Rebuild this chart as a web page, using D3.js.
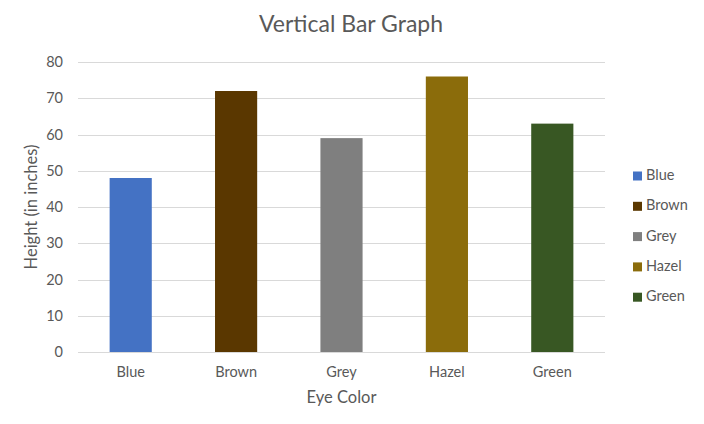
<!DOCTYPE html>
<html>
<head>
<meta charset="utf-8">
<script src="https://cdn.jsdelivr.net/npm/d3@7"></script>
<style>
  body { margin: 0; background: #fff; }
  text { font-family: Lato, "Noto Sans", sans-serif; fill: #595959; }
</style>
</head>
<body>
<svg id="chart"></svg>
<script>
// data
const categories = ['Blue', 'Brown', 'Grey', 'Hazel', 'Green']
const heights = [48, 72, 59, 76, 63]
const barColors = ['#4472c4', '#5a3700', '#7f7f7f', '#8b6c0b', '#385723']
const yTicks = [0, 10, 20, 30, 40, 50, 60, 70, 80]

const w = 704
const h = 424
const margin = {top: 62, right: 99, bottom: 72, left: 78}
const iw = w - margin.left - margin.right
const ih = h - margin.top - margin.bottom

const svg = d3.select('#chart')
  .attr('width', w)
  .attr('height', h)

const g = svg.append('g')
  .attr('transform', `translate(${margin.left},${margin.top})`)

const xScale = d3.scaleBand()
  .domain(categories)
  .range([0, iw])
  .paddingInner(0.6)
  .paddingOuter(0.3)

const yScale = d3.scaleLinear()
  .domain([0, 80])
  .range([ih, 0])

// gridlines
g.append('g')
  .selectAll('line')
  .data(yTicks)
  .enter()
  .append('line')
  .attr('x1', 0)
  .attr('x2', iw)
  .attr('y1', d => Math.round(yScale(d)) + 0.5)
  .attr('y2', d => Math.round(yScale(d)) + 0.5)
  .attr('stroke', '#d9d9d9')
  .attr('stroke-width', 1)

// y axis labels
const yAxis = d3.axisLeft(yScale).tickValues(yTicks).tickSize(0).tickPadding(15)
g.append('g')
  .call(yAxis)
  .call(s => s.select('.domain').remove())
  .selectAll('text')
  .style('font-size', '14.5px')
  .attr('fill', '#595959')

// x axis labels
const xAxis = d3.axisBottom(xScale).tickSize(0).tickPadding(15)
g.append('g')
  .attr('transform', `translate(0,${ih})`)
  .call(xAxis)
  .call(s => s.select('.domain').remove())
  .selectAll('text')
  .style('font-size', '14.5px')
  .attr('fill', '#595959')

// bars
g.selectAll('.bar')
  .data(categories)
  .enter()
  .append('rect')
  .attr('class', 'bar')
  .attr('x', d => xScale(d))
  .attr('width', xScale.bandwidth())
  .attr('y', (d, i) => yScale(heights[i]))
  .attr('height', (d, i) => ih - yScale(heights[i]))
  .attr('fill', (d, i) => barColors[i])

// title
svg.append('text')
  .attr('x', 351)
  .attr('y', 32)
  .attr('text-anchor', 'middle')
  .style('font-size', '23px')
  .text('Vertical Bar Graph')

// axis titles
svg.append('text')
  .attr('x', margin.left + iw / 2)
  .attr('y', 403)
  .attr('text-anchor', 'middle')
  .style('font-size', '16.5px')
  .text('Eye Color')

svg.append('text')
  .attr('transform', `translate(37,${margin.top + ih / 2}) rotate(-90)`)
  .attr('text-anchor', 'middle')
  .style('font-size', '16.5px')
  .text('Height (in inches)')

// legend
const legend = svg.append('g')
  .attr('transform', 'translate(633,175.5)')
  .selectAll('g')
  .data(categories)
  .enter()
  .append('g')
  .attr('transform', (d, i) => `translate(0,${i * 30.3})`)

legend.append('rect')
  .attr('x', 0)
  .attr('y', -4)
  .attr('width', 9)
  .attr('height', 9)
  .attr('fill', (d, i) => barColors[i])

legend.append('text')
  .attr('x', 13)
  .attr('y', 0)
  .attr('dy', '0.32em')
  .style('font-size', '14.5px')
  .text(d => d)
</script>
</body>
</html>
